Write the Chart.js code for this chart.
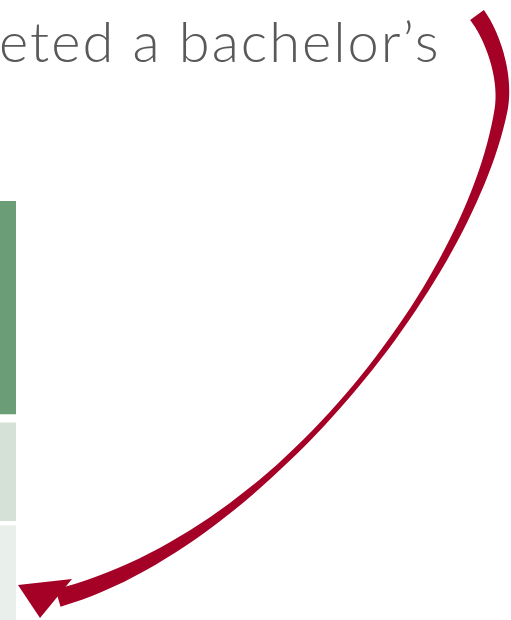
<!DOCTYPE html>
<html>
<head>
<meta charset="utf-8">
<script src="https://cdn.jsdelivr.net/npm/chart.js@4"></script>
<style>
  html, body { margin: 0; padding: 0; background: #fff; overflow: hidden; }
  #wrap { position: relative; width: 511px; height: 620px; overflow: hidden; }
  #title {
    position: absolute; left: -1px; top: 6px; white-space: nowrap;
    font-family: "Lato", sans-serif; font-weight: 300; font-size: 56px;
    letter-spacing: 2px; color: #595959; line-height: 70px;
  }
  #box { position: absolute; left: -300px; top: 0; width: 811px; height: 620px; }
</style>
</head>
<body>
<div id="wrap">
  <div id="box"><canvas id="chart"></canvas></div>
  <div id="title">eted a bachelor’s</div>
</div>
<script>
const categories = [""];
const segmentLabels = ["Completed", "Some college", "No college"];
const completed = [52];
const someCollege = [25];
const noCollege = [23];

// curved arrow over the chart, page coordinates: two cubic pieces, width by y
const arrowCurves = [
  [[477, 15], [492, 35], [507, 76], [501, 110]],
  [[501, 110], [470, 280], [270, 540], [58, 598]]
];
const arrowWidthByY = [[15, 17], [110, 13], [200, 9], [300, 6], [400, 5], [470, 6], [520, 9], [560, 13], [598, 18]];

function widthAt(y) {
  const t = arrowWidthByY;
  if (y <= t[0][0]) return t[0][1];
  for (let i = 1; i < t.length; i++) {
    if (y <= t[i][0]) {
      const f = (y - t[i - 1][0]) / (t[i][0] - t[i - 1][0]);
      return t[i - 1][1] + (t[i][1] - t[i - 1][1]) * f;
    }
  }
  return t[t.length - 1][1];
}

function bez(c, t) {
  const u = 1 - t;
  const a = u * u * u, b = 3 * u * u * t, d = 3 * u * t * t, e = t * t * t;
  return [a * c[0][0] + b * c[1][0] + d * c[2][0] + e * c[3][0],
          a * c[0][1] + b * c[1][1] + d * c[2][1] + e * c[3][1]];
}

const arrowPlugin = {
  id: "arrow",
  afterDraw(chart) {
    const ctx = chart.ctx;
    ctx.save();
    ctx.translate(300, 0);
    const pts = [];
    arrowCurves.forEach((c, k) => {
      for (let s = k ? 1 : 0; s <= 60; s++) pts.push(bez(c, s / 60));
    });
    const left = [], right = [];
    pts.forEach((p, i) => {
      const a = pts[Math.max(i - 1, 0)], b = pts[Math.min(i + 1, pts.length - 1)];
      const dx = b[0] - a[0], dy = b[1] - a[1];
      const len = Math.hypot(dx, dy) || 1;
      const h = widthAt(p[1]) / 2;
      left.push([p[0] - dy / len * h, p[1] + dx / len * h]);
      right.push([p[0] + dy / len * h, p[1] - dx / len * h]);
    });
    ctx.fillStyle = "#a50026";
    ctx.beginPath();
    left.forEach((p, i) => i ? ctx.lineTo(p[0], p[1]) : ctx.moveTo(p[0], p[1]));
    right.reverse().forEach(p => ctx.lineTo(p[0], p[1]));
    ctx.closePath();
    ctx.fill();
    ctx.beginPath();
    ctx.moveTo(18, 585);
    ctx.lineTo(72, 579);
    ctx.lineTo(40, 618);
    ctx.closePath();
    ctx.fill();
    ctx.restore();
  }
};

new Chart(document.getElementById("chart"), {
  type: "bar",
  data: {
    labels: categories,
    datasets: [
      { label: segmentLabels[2], data: noCollege, backgroundColor: "#e9efea", borderColor: "#fff",
        borderWidth: { top: 2, bottom: 0, left: 0, right: 0 } },
      { label: segmentLabels[1], data: someCollege, backgroundColor: "#d5e0d6", borderColor: "#fff",
        borderWidth: { top: 4, bottom: 3, left: 0, right: 0 } },
      { label: segmentLabels[0], data: completed, backgroundColor: "#6b9d76", borderColor: "#fff",
        borderWidth: { top: 0, bottom: 5, left: 0, right: 0 } }
    ]
  },
  options: {
    responsive: true,
    maintainAspectRatio: false,
    animation: false,
    layout: { padding: { top: 201, right: 495, bottom: 0, left: 0 } },
    datasets: { bar: { barPercentage: 1, categoryPercentage: 1, borderSkipped: false } },
    plugins: { legend: { display: false }, tooltip: { enabled: false } },
    scales: {
      x: { stacked: true, display: false },
      y: { stacked: true, display: false, min: 0, max: 100 }
    }
  },
  plugins: [arrowPlugin]
});
</script>
</body>
</html>
